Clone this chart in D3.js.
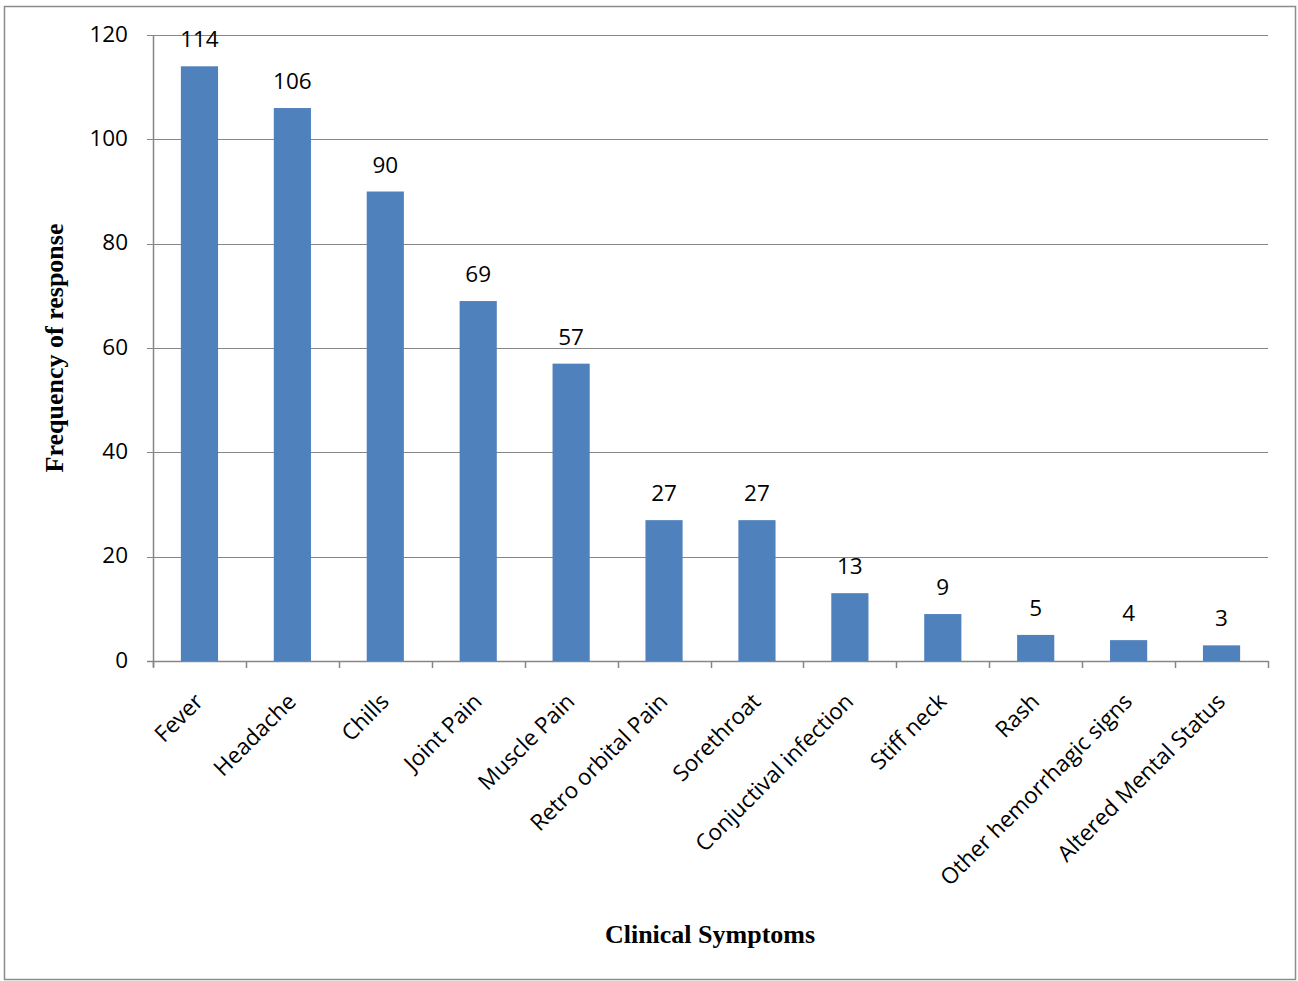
<!DOCTYPE html>
<html>
<head>
<meta charset="utf-8">
<script src="https://cdn.jsdelivr.net/npm/d3@7/dist/d3.min.js"></script>
<style>
  body { margin: 0; background: #fff; }
  svg { display: block; }
</style>
</head>
<body>
<div class="chart"></div>
<script>
var symptoms = ["Fever", "Headache", "Chills", "Joint Pain", "Muscle Pain", "Retro orbital Pain",
  "Sorethroat", "Conjuctival infection", "Stiff neck", "Rash", "Other hemorrhagic signs", "Altered Mental Status"];
var counts = [114, 106, 90, 69, 57, 27, 27, 13, 9, 5, 4, 3];
var yTicks = [0, 20, 40, 60, 80, 100, 120];

var W = 1298, H = 981;
var margin = {top: 35, right: 30, bottom: 320, left: 153};
var width = 1268 - margin.left;
var height = 661 - margin.top;

var gridColor = "#868686";
var barColor = "#4F81BD";
var labelFont = "'Open Sans', sans-serif";
var labelSize = "22.5px";

var x = d3.scaleBand()
  .domain(symptoms)
  .range([0, width])
  .paddingInner(0.6)
  .paddingOuter(0.3);

var y = d3.scaleLinear()
  .domain([0, 120])
  .range([height, 0]);

var svg = d3.select(".chart").append("svg")
  .attr("width", W)
  .attr("height", H);

// outer frame
svg.append("rect")
  .attr("x", 4.5).attr("y", 6.5)
  .attr("width", 1291).attr("height", 973)
  .attr("fill", "none")
  .attr("stroke", "#8c8c8c")
  .attr("stroke-width", 1.5);

var g = svg.append("g")
  .attr("transform", "translate(" + margin.left + "," + margin.top + ")");

// gridlines + y ticks
g.selectAll(".grid")
  .data(yTicks)
  .enter().append("line")
    .attr("class", "grid")
    .attr("x1", -6).attr("x2", width)
    .attr("y1", function(d) { return Math.round(y(d)) + 0.5; })
    .attr("y2", function(d) { return Math.round(y(d)) + 0.5; })
    .attr("stroke", gridColor)
    .attr("stroke-width", function(d) { return d === 0 ? 1.5 : 1; });

g.selectAll(".ylab")
  .data(yTicks)
  .enter().append("text")
    .attr("class", "ylab")
    .attr("x", -25)
    .attr("y", function(d) { return y(d); })
    .attr("dy", "0.3em")
    .attr("text-anchor", "end")
    .style("font-family", labelFont)
    .style("font-size", labelSize)
    .text(function(d) { return d; });

// y axis line
g.append("line")
  .attr("x1", 0.5).attr("x2", 0.5)
  .attr("y1", 0).attr("y2", height + 6)
  .attr("stroke", gridColor)
  .attr("stroke-width", 1.5);

// x axis ticks at category boundaries
var step = x.step();
var bounds = d3.range(symptoms.length + 1);
g.selectAll(".xtick")
  .data(bounds)
  .enter().append("line")
    .attr("class", "xtick")
    .attr("x1", function(d) { return Math.round(d * step) + 0.5; })
    .attr("x2", function(d) { return Math.round(d * step) + 0.5; })
    .attr("y1", height).attr("y2", height + 7)
    .attr("stroke", gridColor)
    .attr("stroke-width", 1.5);

// bars
g.selectAll(".bar")
  .data(counts)
  .enter().append("rect")
    .attr("class", "bar")
    .attr("x", function(d, i) { return x(symptoms[i]); })
    .attr("y", function(d) { return y(d); })
    .attr("width", x.bandwidth())
    .attr("height", function(d) { return height - y(d); })
    .attr("fill", barColor);

// value labels
g.selectAll(".val")
  .data(counts)
  .enter().append("text")
    .attr("class", "val")
    .attr("x", function(d, i) { return x(symptoms[i]) + x.bandwidth() / 2; })
    .attr("y", function(d) { return y(d) - 19; })
    .attr("text-anchor", "middle")
    .style("font-family", labelFont)
    .style("font-size", labelSize)
    .text(function(d) { return d; });

// category labels
g.selectAll(".xlab")
  .data(symptoms)
  .enter().append("text")
    .attr("class", "xlab")
    .attr("transform", function(d) {
      return "translate(" + (x(d) + x.bandwidth() / 2 + 5) + "," + (height + 42) + ") rotate(-45)";
    })
    .attr("text-anchor", "end")
    .style("font-family", labelFont)
    .style("font-size", labelSize)
    .text(function(d) { return d; });

// axis titles
svg.append("text")
  .attr("x", 710).attr("y", 943)
  .attr("text-anchor", "middle")
  .style("font-family", "'Liberation Serif', 'Times New Roman', serif")
  .style("font-weight", "bold")
  .style("font-size", "26px")
  .text("Clinical Symptoms");

svg.append("text")
  .attr("transform", "translate(63,348) rotate(-90)")
  .attr("text-anchor", "middle")
  .style("font-family", "'Liberation Serif', 'Times New Roman', serif")
  .style("font-weight", "bold")
  .style("font-size", "26px")
  .text("Frequency of response");
</script>
</body>
</html>
